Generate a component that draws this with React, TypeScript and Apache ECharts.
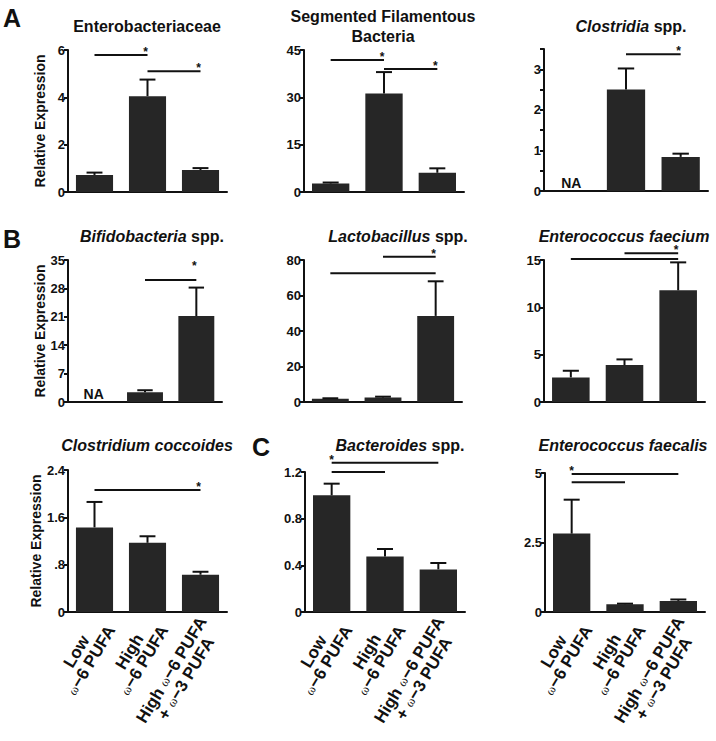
import React, { useEffect, useRef } from 'react';
import * as echarts from 'echarts';

// ---------- data ----------
const groups = ['Low ω−6 PUFA', 'High ω−6 PUFA', 'High ω−6 PUFA + ω−3 PUFA'];
const groupTickLabels = ['Low\nω−6 PUFA', 'High\nω−6 PUFA', 'High ω−6 PUFA\n+ ω−3 PUFA'];

const panelTitles = [
  '{b|Enterobacteriaceae}',
  '{b|Segmented Filamentous}\n{b|Bacteria}',
  '{i|Clostridia}{b| spp.}',
  '{i|Bifidobacteria}{b| spp.}',
  '{i|Lactobacillus}{b| spp.}',
  '{i|Enterococcus faecium}',
  '{i|Clostridium coccoides}',
  '{i|Bacteroides}{b| spp.}',
  '{i|Enterococcus faecalis}',
];
const panelLetters = ['A', 'B', 'C'];
const yAxisName = 'Relative Expression';
const naText = 'NA';

const enterobacteriaceaeMean = [0.72, 4.05, 0.93];
const enterobacteriaceaeSem = [0.1, 0.7, 0.08];
const sfbMean = [2.7, 31.2, 6.1];
const sfbSem = [0.3, 6.8, 1.4];
const clostridiaMean = [null, 2.5, 0.84];
const clostridiaSem = [null, 0.52, 0.08];
const bifidobacteriaMean = [null, 2.4, 21.2];
const bifidobacteriaSem = [null, 0.5, 7.0];
const lactobacillusMean = [1.8, 2.6, 48.5];
const lactobacillusSem = [0.3, 0.4, 19.5];
const faeciumMean = [2.6, 3.9, 11.8];
const faeciumSem = [0.7, 0.6, 2.95];
const coccoidesMean = [1.43, 1.17, 0.63];
const coccoidesSem = [0.43, 0.11, 0.05];
const bacteroidesMean = [1.0, 0.475, 0.365];
const bacteroidesSem = [0.1, 0.065, 0.055];
const faecalisMean = [2.82, 0.28, 0.4];
const faecalisSem = [1.22, 0.02, 0.05];

const yMax = [6, 45, 3.5, 35, 80, 15, 2.4, 1.2, 5];
const yInterval = [2, 15, 0.5, 7, 20, 5, 0.8, 0.4, 2.5];
const yTickLabels = [
  ['0', '2', '4', '6'],
  ['0', '15', '30', '45'],
  ['0', '', '1', '', '2', '', '3', ''],
  ['0', '7', '14', '21', '28', '35'],
  ['0', '20', '40', '60', '80'],
  ['0', '5', '10', '15'],
  ['0', '.8', '1.6', '2.4'],
  ['0', '0.4', '0.8', '1.2'],
  ['0', '2.5', '5'],
];

// significance bars: [fromGroup, toGroup, yValue, star (0 none, 1 at start, 2 at end), starValue]
const enterobacteriaceaeSig = [[0, 1, 5.79, 2, null], [1, 2, 5.1, 2, null]];
const sfbSig = [[0, 1, 41.8, 2, null], [1, 2, 39.0, 2, null]];
const clostridiaSig = [[1, 2, 3.37, 2, null]];
const bifidobacteriaSig = [[1, 2, 30.1, 2, 34.3]];
const lactobacillusSig = [[1, 2, 81.8, 2, null], [0, 2, 72.5, 0, null]];
const faeciumSig = [[1, 2, 15.7, 2, null], [0, 2, 15.1, 0, null]];
const coccoidesSig = [[0, 2, 2.06, 2, null]];
const bacteroidesSig = [[0, 2, 1.28, 1, null], [0, 1, 1.2, 0, null]];
const faecalisSig = [[0, 2, 4.96, 1, null], [0, 1, 4.67, 0, null]];

// ---------- layout ----------
const FONT = 'Liberation Sans, Arial, Helvetica, sans-serif';
const INK = '#111111';
const BAR = '#262626';

const grids = [
  { left: 68, top: 50, width: 159, height: 142 },
  { left: 304, top: 50, width: 160, height: 142 },
  { left: 544, top: 49, width: 164, height: 142 },
  { left: 68, top: 260, width: 154, height: 142 },
  { left: 304, top: 260, width: 158, height: 142 },
  { left: 544, top: 260, width: 161, height: 142 },
  { left: 68, top: 470, width: 159, height: 142 },
  { left: 305, top: 472, width: 160, height: 140 },
  { left: 545, top: 473, width: 160, height: 139 },
];
const titlePos = [
  { x: 147, y: 18, lh: 16 }, { x: 383, y: 6, lh: 20 }, { x: 631, y: 18, lh: 16 },
  { x: 152, y: 228, lh: 16 }, { x: 398, y: 228, lh: 16 }, { x: 624, y: 228, lh: 16 },
  { x: 147, y: 437, lh: 16 }, { x: 400, y: 437, lh: 16 }, { x: 623, y: 437, lh: 16 },
];
const letterPos = [
  { x: 3, y: 5 }, { x: 3, y: 226 }, { x: 252, y: 434 },
];

const means = [enterobacteriaceaeMean, sfbMean, clostridiaMean, bifidobacteriaMean, lactobacillusMean, faeciumMean, coccoidesMean, bacteroidesMean, faecalisMean];
const sems = [enterobacteriaceaeSem, sfbSem, clostridiaSem, bifidobacteriaSem, lactobacillusSem, faeciumSem, coccoidesSem, bacteroidesSem, faecalisSem];
const sigs = [enterobacteriaceaeSig, sfbSig, clostridiaSig, bifidobacteriaSig, lactobacillusSig, faeciumSig, coccoidesSig, bacteroidesSig, faecalisSig];

const toRich = (label: string) =>
  label
    .split('\n')
    .map((line) =>
      line
        .split('ω')
        .map((s) => (s ? `{t|${s}}` : ''))
        .join('{w|ω}')
    )
    .join('\n');

const errorRender = (params: any, api: any) => {
  const x = api.value(0);
  const m = api.value(1);
  const e = api.value(2);
  const p0 = api.coord([x, m]);
  const p1 = api.coord([x, m + e]);
  const half = api.size([1, 0])[0] * 0.15;
  return {
    type: 'group',
    children: [
      { type: 'line', shape: { x1: p0[0], y1: p0[1], x2: p1[0], y2: p1[1] }, style: { stroke: INK, lineWidth: 2 } },
      { type: 'line', shape: { x1: p1[0] - half, y1: p1[1], x2: p1[0] + half, y2: p1[1] }, style: { stroke: INK, lineWidth: 2 } },
    ],
  };
};

const sigRender = (params: any, api: any) => {
  const y = api.value(2);
  const a = api.coord([api.value(0), y]);
  const b = api.coord([api.value(1), y]);
  const star = api.value(3);
  const sv = api.value(4);
  const children: any[] = [
    { type: 'line', shape: { x1: a[0], y1: a[1], x2: b[0], y2: b[1] }, style: { stroke: INK, lineWidth: 2 } },
  ];
  if (star === 1 || star === 2) {
    const sx = star === 1 ? a[0] : b[0] - 2;
    const sy = sv == null || isNaN(sv) ? a[1] + 3 : api.coord([0, sv])[1] + 9;
    children.push({
      type: 'text',
      x: sx,
      y: sy,
      style: {
        text: '*',
        fontSize: 12,
        fontWeight: 'bold',
        fontFamily: FONT,
        fill: INK,
        align: 'center',
        textAlign: 'center',
        verticalAlign: 'bottom',
        textVerticalAlign: 'bottom',
      },
    });
  }
  return { type: 'group', children };
};

function buildOption() {
  const n = grids.length;
  const xAxis: any[] = [];
  const yAxis: any[] = [];
  const series: any[] = [];
  const title: any[] = [];

  for (let i = 0; i < n; i++) {
    const bottomRow = i >= 6;
    const leftCol = i % 3 === 0;
    xAxis.push({
      gridIndex: i,
      type: 'category',
      data: groups,
      axisLine: { show: true, lineStyle: { color: INK, width: 2 } },
      axisTick: { show: false },
      axisLabel: bottomRow
        ? {
            show: true,
            interval: 0,
            rotate: 59,
            margin: 5,
            padding: [22, 0, 0, 0],
            formatter: (_v: string, idx: number) => toRich(groupTickLabels[idx]),
            rich: {
              t: { fontSize: 17, fontWeight: 'bold', fontFamily: FONT, color: INK, align: 'center', lineHeight: 17 },
              w: { fontSize: 13, fontWeight: 'normal', fontFamily: 'Liberation Serif, serif', color: INK, align: 'center', lineHeight: 17 },
            },
          }
        : { show: false },
      splitLine: { show: false },
    });
    const labels = yTickLabels[i];
    yAxis.push({
      gridIndex: i,
      type: 'value',
      min: 0,
      max: yMax[i],
      interval: yInterval[i],
      axisLine: { show: true, lineStyle: { color: INK, width: 2 } },
      axisTick: { show: true, length: 4, lineStyle: { color: INK, width: 2 } },
      axisLabel: {
        fontSize: 13,
        fontWeight: 'bold',
        fontFamily: FONT,
        color: INK,
        margin: 3,
        formatter: (_v: number, idx: number) => labels[idx] ?? '',
      },
      splitLine: { show: false },
      name: leftCol ? yAxisName : '',
      nameLocation: 'middle',
      nameGap: 21,
      nameTextStyle: { fontSize: 14, fontWeight: 'bold', fontFamily: FONT, color: INK },
    });

    const m = means[i];
    const s = sems[i];
    series.push({
      type: 'bar',
      xAxisIndex: i,
      yAxisIndex: i,
      barWidth: '70%',
      itemStyle: { color: BAR },
      data: m.map((v) =>
        v == null
          ? {
              value: 0,
              label: {
                show: true,
                position: 'top',
                distance: 1,
                formatter: naText,
                fontSize: 14,
                fontWeight: 'bold',
                fontFamily: FONT,
                color: INK,
              },
            }
          : v
      ),
    });
    const errData: any[] = [];
    m.forEach((v, j) => {
      if (v != null && s[j] != null) errData.push([j, v, s[j]]);
    });
    series.push({
      type: 'custom',
      xAxisIndex: i,
      yAxisIndex: i,
      renderItem: errorRender,
      data: errData,
      z: 3,
    });
    series.push({
      type: 'custom',
      xAxisIndex: i,
      yAxisIndex: i,
      renderItem: sigRender,
      encode: { x: 0, y: 2 },
      data: sigs[i],
      z: 4,
      clip: false,
    });

    const lh = titlePos[i].lh;
    title.push({
      text: panelTitles[i],
      left: titlePos[i].x,
      top: titlePos[i].y,
      textAlign: 'center',
      padding: 0,
      textStyle: {
        fontSize: 16,
        fontWeight: 'bold',
        fontFamily: FONT,
        color: INK,
        lineHeight: lh,
        rich: {
          b: { fontSize: 16, fontWeight: 'bold', fontFamily: FONT, color: INK, lineHeight: lh },
          i: { fontSize: 16, fontWeight: 'bold', fontStyle: 'italic', fontFamily: FONT, color: INK, lineHeight: lh },
        },
      },
    });
  }

  panelLetters.forEach((l, k) => {
    title.push({
      text: l,
      left: letterPos[k].x,
      top: letterPos[k].y,
      padding: 0,
      textStyle: { fontSize: 25, fontWeight: 'bold', fontFamily: FONT, color: INK },
    });
  });

  return {
    animation: false,
    backgroundColor: '#ffffff',
    title,
    grid: grids.map((g) => ({ ...g, containLabel: false })),
    xAxis,
    yAxis,
    series,
  };
}

export default function App() {
  const ref = useRef<HTMLDivElement>(null);
  useEffect(() => {
    document.body.style.margin = '0';
    if (!ref.current) return;
    const chart = echarts.init(ref.current, undefined, { renderer: 'svg' });
    chart.setOption(buildOption() as any);
    return () => chart.dispose();
  }, []);
  return <div ref={ref} style={{ width: 716, height: 741 }} />;
}
